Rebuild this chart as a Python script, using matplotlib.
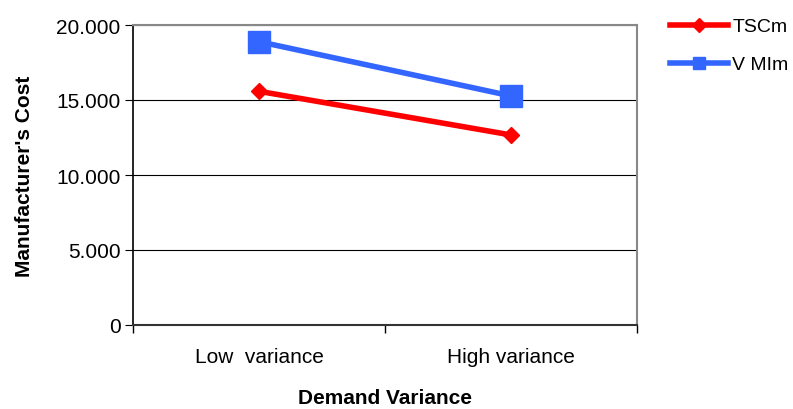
import matplotlib.pyplot as plt
from matplotlib.ticker import FuncFormatter

categories = ['Low  variance', 'High variance']
tscm = [15580, 12670]
vmim = [18890, 15270]

plt.rcParams['font.family'] = ['Liberation Sans', 'DejaVu Sans']

fig = plt.figure(figsize=(7.93, 4.10), dpi=100)
ax = fig.add_axes([133 / 793, 84 / 410, 504 / 793, 300 / 410])

x = [0.5, 1.5]
ax.plot(x, tscm, color='#ff0000', linewidth=4, marker='D', markersize=8, label='TSCm')
ax.plot(x, vmim, color='#3366ff', linewidth=4, marker='s', markersize=16, label='V MIm')

ax.set_xlim(0, 2)
ax.set_ylim(0, 20000)
ax.set_yticks([0, 5000, 10000, 15000, 20000])
ax.yaxis.set_major_formatter(FuncFormatter(lambda v, p: f'{int(v):,}'.replace(',', '.')))
ax.set_xticks([0, 1, 2])
ax.set_xticklabels([])
ax.set_xticks(x, minor=True)
ax.set_xticklabels(categories, minor=True)
ax.tick_params(axis='x', which='minor', length=0, pad=16, labelsize=15)
ax.tick_params(axis='x', which='major', length=6, direction='out', width=1)
ax.tick_params(axis='y', length=6, direction='out', labelsize=15, pad=3)

ax.grid(axis='y', color='black', linewidth=0.8)
ax.set_axisbelow(True)
for side in ['top', 'right']:
    ax.spines[side].set_color('#888888')
    ax.spines[side].set_linewidth(1.5)
ax.spines['left'].set_color('black')
ax.spines['left'].set_linewidth(1.2)
ax.spines['bottom'].set_color('#333333')
ax.spines['bottom'].set_linewidth(1.5)

ax.set_xlabel('Demand Variance', fontsize=15, fontweight='bold', labelpad=16)
ax.set_ylabel("Manufacturer's Cost", fontsize=15, fontweight='bold', labelpad=16)

leg = ax.legend(loc='upper left', bbox_to_anchor=(1.05, 1.05), frameon=False, fontsize=14,
                handlelength=3.0, handletextpad=0.2, labelspacing=1.05, borderaxespad=0)
leg.legend_handles[0].set_markersize(7)
leg.legend_handles[1].set_markersize(9)

fig.savefig('out.png', dpi=100)
